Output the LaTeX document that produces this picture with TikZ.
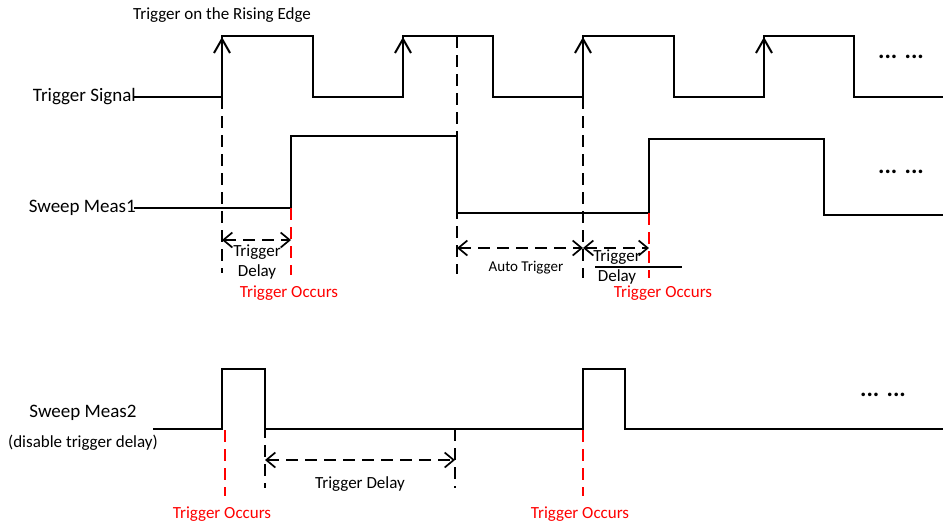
\documentclass[tikz,border=0pt]{standalone}
\usepackage{fontspec}
\setmainfont{Carlito}
\usetikzlibrary{arrows.meta}
\begin{document}
\begin{tikzpicture}[x=1pt,y=-1pt,
  sig/.style={line width=2pt, line join=miter},
  wave/.style={line width=1.1pt, line join=miter},
  guide/.style={line width=1.7pt, dash pattern=on 12pt off 7pt},
  redguide/.style={guide, red},
  edgearrow/.style={-{Straight Barb[length=14pt,width=16pt]}},
  span/.style={guide, {Straight Barb[length=9pt,width=15pt]}-{Straight Barb[length=9pt,width=15pt]}},
  lbl/.style={font=\fontsize{19}{22}\selectfont, inner sep=0pt},
  mid/.style={font=\fontsize{17}{20}\selectfont, inner sep=0pt},
  tiny/.style={font=\fontsize{15}{18}\selectfont, inner sep=0pt},
  occ/.style={mid, text=red},
  dots/.style={font=\fontsize{24}{26}\selectfont\bfseries, inner sep=0pt}
]
\useasboundingbox[fill=white] (0,0) rectangle (943,528);

% ---------- Trigger signal ----------
\node[lbl, anchor=east] (tslbl) at (136,97) {Trigger Signal};
\node[mid] (rise) at (222,15) {Trigger on the Rising Edge};
\draw[sig] (134,97) -- (222,97) -- (222,36) -- (313,36) -- (313,97) -- (403,97) -- (403,36)
  -- (493,36) -- (493,97) -- (583,97) -- (583,36) -- (674,36) -- (674,97) -- (764,97)
  -- (764,36) -- (854,36) -- (854,97) -- (943,97);
\foreach \x in {222,403,583,764} \draw[sig, edgearrow] (\x,97) -- (\x,37);
\node[dots] (d1) at (901,57) {... ...};

% ---------- Sweep Meas1 ----------
\node[lbl, anchor=east] (s1lbl) at (136,208) {Sweep Meas1};
\draw[wave] (134,208) -- (291,208) -- (291,136) -- (457,136) -- (457,213) -- (649,213)
  -- (649,139) -- (824,139) -- (824,215) -- (943,215);
\node[dots] (d2) at (901,172) {... ...};

% guides from trigger signal
\draw[guide] (222,97) -- (222,273);
\draw[guide] (457,36) -- (457,274);
\draw[guide] (583,97) -- (583,278);
\draw[redguide] (291,208) -- (291,275);
\draw[redguide] (649,213) -- (649,278);

\coordinate (a1) at (222,240); \coordinate (a2) at (291,240);
\draw[span] (a1) -- (a2);
\node[mid, align=center, font=\fontsize{17}{20}\selectfont] (td1) at (257,262) {Trigger\\Delay};
\node[occ] (to1) at (289,293) {Trigger Occurs};

\coordinate (b1) at (457,248); \coordinate (b2) at (583,248); \coordinate (b3) at (649,248);
\draw[span] (b1) -- (b2);
\draw[span] (b2) -- (b3);
\node[tiny] (at) at (526,268) {Auto Trigger};
\node[mid, align=center, font=\fontsize{17}{20}\selectfont] (td2) at (617,267) {Trigger\\Delay};
\draw[line width=1.1pt] (595,267) -- (682,267);
\node[occ] (to2) at (663,293) {Trigger Occurs};

% ---------- Sweep Meas2 ----------
\node[lbl] (s2lbl) at (83,413) {Sweep Meas2};
\node[mid] (s2sub) at (83,443) {(disable trigger delay)};
\draw[wave] (153,429) -- (222,429) -- (222,369) -- (265,369) -- (265,429) -- (583,429)
  -- (583,369) -- (625,369) -- (625,429) -- (943,429);
\node[dots] (d3) at (883,395) {... ...};

\draw[guide] (265,369) -- (265,488);
\draw[guide] (455,429) -- (455,488);
\draw[redguide] (225,430) -- (225,496);
\draw[redguide] (583,430) -- (583,496);

\coordinate (c1) at (265,460); \coordinate (c2) at (455,460);
\draw[span] (c1) -- (c2);
\node[mid] (td3) at (360,484) {Trigger Delay};
\node[occ] (to4a) at (222,514) {Trigger Occurs};
\node[occ] (to4) at (580,514) {Trigger Occurs};
\end{tikzpicture}
\end{document}
